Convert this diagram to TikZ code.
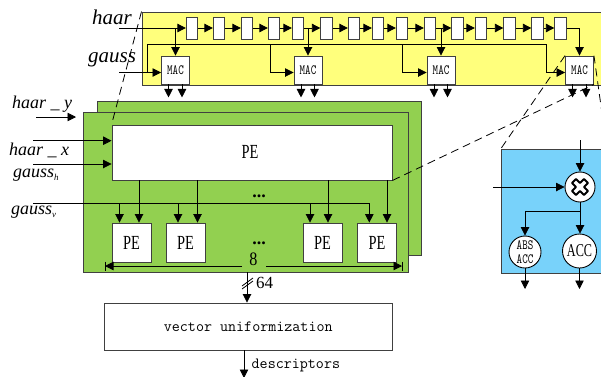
\documentclass[tikz,border=0pt]{standalone}
\usepackage{fontspec}
\setmainfont{Liberation Serif}
\usetikzlibrary{arrows.meta,calc}
\definecolor{yel}{HTML}{FFFF7C}
\definecolor{blu}{HTML}{78D2FA}
\definecolor{grn}{HTML}{92D050}
\definecolor{edge}{HTML}{404040}
\tikzset{
 x=1pt,y=-1pt,
 arr/.style={draw=black,line width=.8pt,-{Triangle[length=8.5pt,width=8.5pt]}},
 ln/.style={draw=black,line width=.8pt},
 reg/.style={draw=edge,fill=white,line width=.8pt,minimum width=11.5pt,minimum height=22pt,inner sep=0pt},
 mac/.style={draw=edge,fill=white,line width=.9pt,minimum width=28pt,minimum height=28pt,inner sep=0pt,font=\ttfamily\fontsize{10.5}{10.5}\selectfont},
 pesm/.style={draw=edge,fill=white,line width=.9pt,minimum width=39pt,minimum height=39pt,inner sep=0pt,font=\fontsize{20}{20}\selectfont},
 lab/.style={inner sep=0pt,anchor=west,font=\itshape\fontsize{18}{18}\selectfont},
 labbig/.style={lab,font=\itshape\fontsize{21}{21}\selectfont},
 txt/.style={inner sep=0pt,font=\fontsize{15.6}{16}\selectfont\ttfamily},
 dsh/.style={draw=black,line width=.8pt,dash pattern=on 8pt off 5pt},
 ccl/.style={circle,draw=black,fill=white,line width=.9pt,inner sep=0pt},
 bgbox/.style={line width=1pt,draw=edge,inner sep=0pt},
 panel/.style={bgbox,fill=#1},
 ellip/.style={inner sep=0pt,font=\bfseries\fontsize{18}{18}\selectfont},
}
\newcommand{\PEt}{\scalebox{.72}[1]{PE}}
\newcommand{\tallT}[1]{\scalebox{1}[1.35]{#1}}
\begin{document}
\begin{tikzpicture}
\useasboundingbox (0,0) rectangle (601,376);
\clip (0,0) rectangle (601,376);
% panels
\node[panel=yel,minimum width=461pt,minimum height=73pt] (yp) at (372.5,48.5) {};
\node[panel=blu,minimum width=110pt,minimum height=124.5pt] (bp) at (556.5,211.25) {};
\node[bgbox,fill=grn,minimum width=324.5pt,minimum height=154pt] (gb) at (259.25,178) {};
\node[bgbox,fill=grn,minimum width=325pt,minimum height=160pt] (gf) at (245.5,192) {};
% registers
\foreach \n/\xx in {1/192,2/219,3/247,4/274,5/298,6/326.5,7/354,8/378,9/402,10/430,11/457.5,12/481,13/509.5,14/537.5,15/560.5}
  \node[reg] (r\n) at (\xx,28) {};
\foreach \a/\b in {1/2,2/3,3/4,4/5,5/6,6/7,7/8,8/9,9/10,10/11,11/12,12/13,13/14,14/15}
  \draw[arr] (r\a) -- (r\b);
% MACs
\node[mac] (mac1) at (175.5,70) {\tallT{MAC}};
\node[mac] (mac2) at (308,70) {\tallT{MAC}};
\node[mac] (mac3) at (441,70) {\tallT{MAC}};
\node[mac] (mac4) at (579.5,70) {\tallT{MAC}};
\coordinate (hs) at (119,28);
\coordinate (gs) at (119,72.5);
\coordinate (railL) at (147,44);
\coordinate (railR) at (546,44);
\coordinate (b2) at (270,44);
\coordinate (b3) at (402,44);
\draw[arr] (hs) -- (r1);
\draw[arr] (hs -| mac1) -- (mac1.north);
\draw[arr] (hs -| mac2) -- (mac2.north);
\draw[arr] (hs -| mac3) -- (mac3.north);
\draw[arr] (r15) -| (mac4.north);
\draw[arr] (gs) -- (gs -| mac1.west);
\draw[ln] (gs -| railL) -- (railL) -- (railR);
\draw[arr] (railR) -- (railR |- gs) -- (gs -| mac4.west);
\draw[arr] (b2) -- (b2 |- gs) -- (gs -| mac2.west);
\draw[arr] (b3) -- (b3 |- gs) -- (gs -| mac3.west);
% MAC outputs
\foreach \m in {1,2,3,4} {
  \coordinate (o\m a) at ($(mac\m.south)+(-7,13)$);
  \coordinate (o\m b) at ($(mac\m.south)+(6.5,13)$);
  \draw[arr] (o\m a |- mac\m.south) -- (o\m a);
  \draw[arr] (o\m b |- mac\m.south) -- (o\m b);
}
% labels
\node[labbig] (lh) at (92,17) {haar};
\node[labbig] (lg) at (88,60) {gauss};
\node[lab] (ly) at (12,104) {haar \_ y};
\node[lab] (lx) at (9,150.5) {haar \_ x};
\node[lab] (lgh) at (13,175) {gauss\raisebox{-3pt}{\fontsize{9}{9}\selectfont h}};
\node[lab] (lgv) at (11,212) {gauss\raisebox{-3pt}{\fontsize{9}{9}\selectfont v}};
% PE
\node[draw=edge,fill=white,line width=.9pt,inner sep=0pt,minimum width=280pt,minimum height=55pt] (pe) at (252,152.5) {};
\node[inner sep=0pt,font=\fontsize{20}{20}\selectfont] (petxt) at (250,152) {\PEt};
\node[pesm] (p1) at (131.5,242.5) {\PEt};
\node[pesm] (p2) at (185.5,242.5) {\PEt};
\node[pesm] (p3) at (322.5,242.5) {\PEt};
\node[pesm] (p4) at (377,242.5) {\PEt};
\coordinate (grs) at (33,203);
\coordinate (hx) at (33,140.7);
\coordinate (hg) at (33,164);
\coordinate (hy) at (36,117);
\coordinate (hye) at (76,117);
\draw[arr] (hy) -- (hye);
\draw[arr] (hx) -- (hx -| pe.west);
\draw[arr] (hg) -- (hg -| pe.west);
\coordinate (g1) at (119.5,203);
\coordinate (g2) at (178,203);
\coordinate (g3) at (310,203);
\coordinate (g4) at (369.3,203);
\draw[ln] (grs) -- (g4);
\foreach \g/\p in {g1/p1,g2/p2,g3/p3,g4/p4}
  \draw[arr] (\g) -- (\g |- \p.north);
\foreach \xx/\p in {139/p1,197.5/p2,328/p3,387/p4}
  \draw[arr] (\xx,0 |- pe.south) -- (\xx,0 |- \p.north);
\node[ellip] (d1) at (259,196) {...};
\node[ellip] (d2) at (259,243) {...};
% dimension
\node[inner sep=0pt,font=\fontsize{19}{19}\selectfont] (eight) at (253.5,259.5) {\scalebox{.85}[1]{8}};
\coordinate (dl) at (105,266);
\coordinate (dr) at (402,266);
\draw[arr] (242,266) -- (dl);
\draw[arr] (266,266) -- (dr);
\draw[ln] (105,261.5) -- (105,271);
\draw[ln] (402,261.5) -- (402,271);
% vector
\node[draw=edge,fill=white,line width=.9pt,inner sep=0pt,minimum width=288.5pt,minimum height=47pt,txt] (vu) at (248.25,326.5) {vector uniformization};
\coordinate (v64) at (247,272);
\draw[arr] (v64) -- (v64 |- vu.north);
\draw[ln] (242,286) -- (253,278);
\draw[ln] (242,289) -- (253,281);
\node[inner sep=0pt,anchor=west,font=\fontsize{17}{17}\selectfont] (n64) at (256,283) {64};
\coordinate (dsc) at (244,378);
\draw[arr] (dsc |- vu.south) -- (dsc);
\node[txt,anchor=west] (desc) at (251.5,365) {descriptors};
% blue contents
\node[ccl,minimum size=30pt] (mul) at (580,187) {};
\draw[line width=2pt,draw=black,fill=white,line join=round] (580,187) ++(-4,-8) -- ++(4,4) -- ++(4,-4) -- ++(4,4) -- ++(-4,4) -- ++(4,4) -- ++(-4,4) -- ++(-4,-4) -- ++(-4,4) -- ++(-4,-4) -- ++(4,-4) -- ++(-4,-4) -- cycle;
\node[ccl,minimum size=32pt,align=center,font=\ttfamily\fontsize{10.5}{13.5}\selectfont] (abs) at (525,252) {\tallT{ABS}\\\tallT{ACC}};
\node[ccl,minimum size=34pt,font=\fontsize{18}{18}\selectfont] (acc) at (579.5,251) {\scalebox{.68}[1]{ACC}};
\coordinate (mi) at (580,140);
\coordinate (ml) at (493,187);
\coordinate (ob) at (525,289);
\coordinate (oc) at (579.5,289);
\draw[arr] (mi) -- (mul.north);
\draw[arr] (ml) -- (mul.west);
\draw[arr] (mul.south) -- (mul.south |- acc.north);
\coordinate (brk) at (580,211);
\draw[arr] (brk) -| (abs.north);
\draw[arr] (abs.south) -- (ob);
\draw[arr] (acc.south) -- (oc);
% dashed
\draw[dsh] (yp.north west) -- (pe.north west);
\draw[dsh] (mac4.north west) -- (bp.north west);
\draw[dsh] (pe.south east) -- (mac4.south east);
\draw[dsh] (mac4.north east) -- (607,149);
\end{tikzpicture}
\end{document}
